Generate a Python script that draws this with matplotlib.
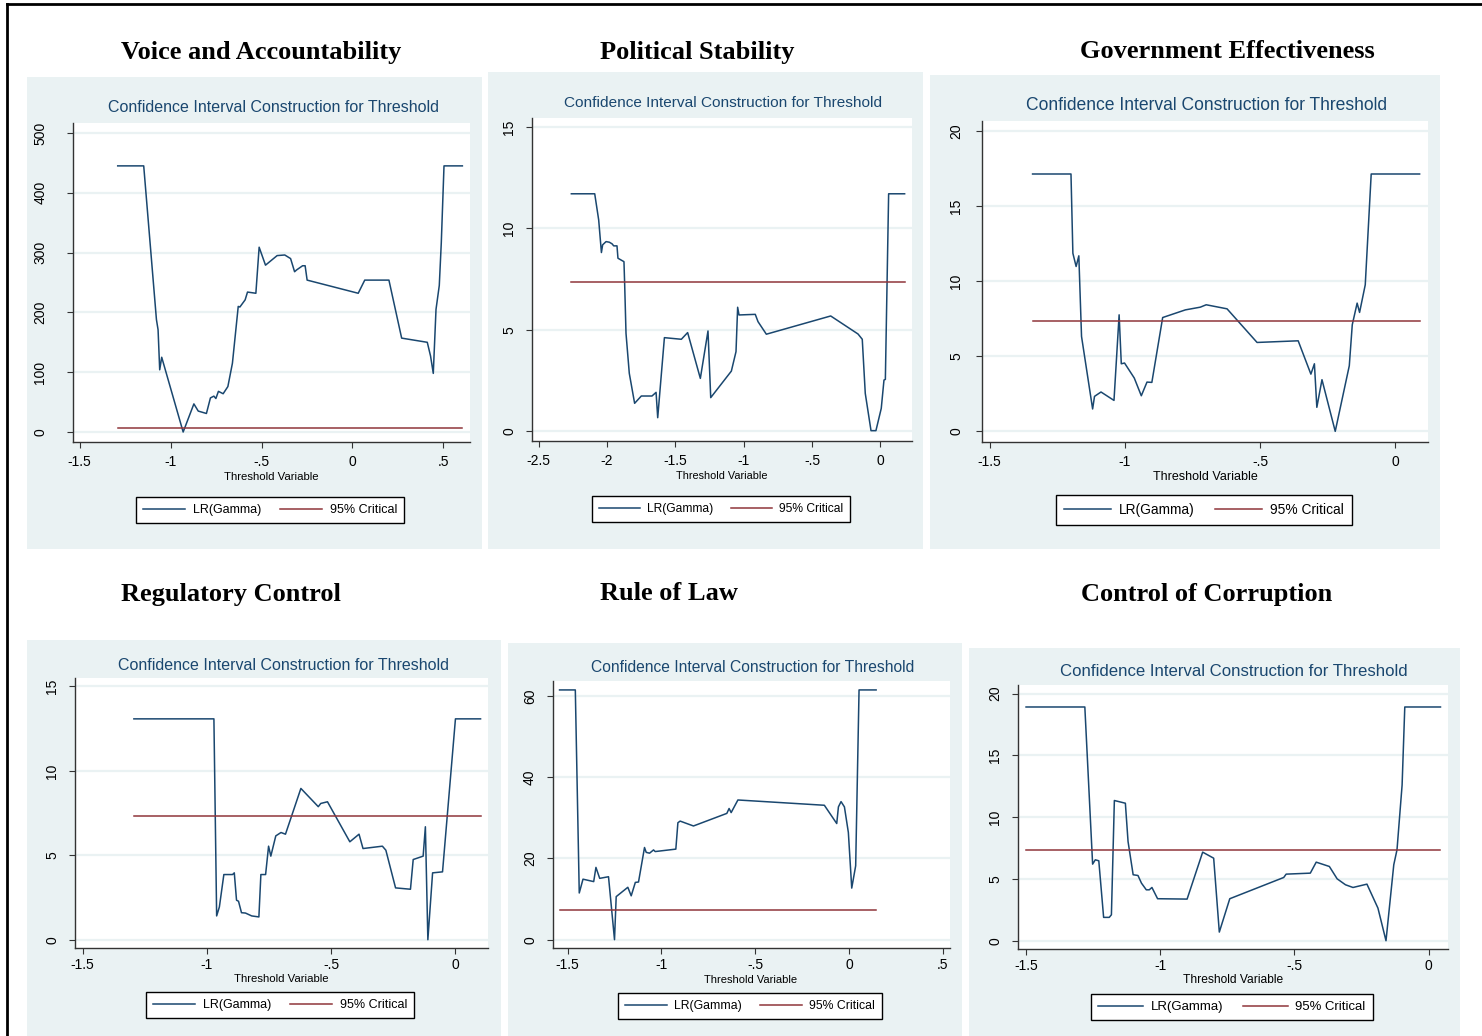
import numpy as np
import matplotlib
matplotlib.use("Agg")
import matplotlib.pyplot as plt
from matplotlib.patches import Rectangle
from matplotlib.lines import Line2D
from matplotlib.ticker import FuncFormatter

# data
# --------------------------------------------------
crit = 7.35

va_x = [-1.291, -1.148, -1.078, -1.069, -1.060, -1.049, -0.931, -0.872, -0.848, -0.803, -0.781, -0.762,
        -0.751, -0.737, -0.711, -0.685, -0.660, -0.628, -0.619, -0.590, -0.577, -0.531, -0.513, -0.478,
        -0.414, -0.372, -0.340, -0.318, -0.307, -0.274, -0.260, -0.249, 0.032, 0.068, 0.201, 0.271,
        0.412, 0.430, 0.445, 0.460, 0.478, 0.489, 0.504, 0.605]
va_y = [445, 445, 188, 171, 104, 125, 0, 47, 35, 31, 57, 60,
        56, 68, 64, 76, 115, 210, 209, 221, 234, 232, 309, 279,
        295, 296, 290, 268, 271, 278, 278, 254, 232, 254, 254, 157,
        150, 127, 98, 205, 245, 316, 445, 445]

ps_x = [-2.261, -2.090, -2.061, -2.041, -2.032, -2.007, -1.983, -1.963, -1.951, -1.927, -1.920, -1.876,
        -1.871, -1.861, -1.837, -1.798, -1.749, -1.671, -1.641, -1.629, -1.580, -1.456, -1.410, -1.317,
        -1.261, -1.241, -1.090, -1.056, -1.044, -1.034, -0.915, -0.895, -0.834, -0.363, -0.163, -0.132,
        -0.110, -0.068, -0.032, 0.007, 0.027, 0.037, 0.061, 0.178]
ps_y = [11.71, 11.71, 10.42, 8.81, 9.19, 9.35, 9.32, 9.24, 9.14, 9.14, 8.53, 8.36,
        7.29, 4.82, 2.85, 1.37, 1.73, 1.73, 1.91, 0.66, 4.61, 4.53, 4.86, 2.60,
        4.94, 1.65, 2.96, 3.92, 6.11, 5.73, 5.76, 5.40, 4.78, 5.68, 4.79, 4.53,
        1.86, 0.02, 0.02, 1.12, 2.52, 2.55, 11.71, 11.71]

ge_x = [-1.341, -1.199, -1.192, -1.180, -1.170, -1.160, -1.119, -1.112, -1.088, -1.040, -1.021, -1.013,
        -1.001, -0.965, -0.939, -0.918, -0.900, -0.860, -0.776, -0.721, -0.699, -0.622, -0.511, -0.359,
        -0.312, -0.299, -0.290, -0.271, -0.222, -0.170, -0.159, -0.141, -0.132, -0.111, -0.089, 0.090]
ge_y = [17.14, 17.14, 11.86, 10.98, 11.69, 6.32, 1.49, 2.33, 2.62, 2.06, 7.76, 4.50,
        4.55, 3.55, 2.37, 3.28, 3.26, 7.58, 8.09, 8.27, 8.43, 8.16, 5.92, 6.03,
        3.81, 4.50, 1.60, 3.44, 0.0, 4.37, 7.10, 8.54, 7.92, 9.76, 17.14, 17.14]

rc_x = [-1.294, -0.972, -0.961, -0.950, -0.932, -0.897, -0.890, -0.881, -0.873, -0.861, -0.845, -0.820,
        -0.791, -0.783, -0.764, -0.752, -0.743, -0.723, -0.702, -0.684, -0.622, -0.552, -0.542, -0.515,
        -0.425, -0.388, -0.372, -0.294, -0.280, -0.241, -0.181, -0.170, -0.130, -0.121, -0.111, -0.092,
        -0.052, 0.0, 0.101]
rc_y = [13.08, 13.08, 1.41, 1.94, 3.86, 3.86, 3.96, 2.34, 2.28, 1.60, 1.58, 1.41,
        1.35, 3.86, 3.86, 5.54, 4.95, 6.15, 6.35, 6.25, 8.96, 7.88, 8.07, 8.17,
        5.80, 6.25, 5.40, 5.54, 5.30, 3.07, 2.99, 4.75, 4.95, 6.69, 0.0, 3.96,
        4.02, 13.08, 13.08]

rl_x = [-1.543, -1.459, -1.438, -1.418, -1.361, -1.349, -1.329, -1.282, -1.250, -1.241, -1.179, -1.161,
        -1.139, -1.122, -1.090, -1.081, -1.063, -1.042, -1.033, -0.923, -0.912, -0.900, -0.829, -0.651,
        -0.639, -0.628, -0.592, -0.131, -0.065, -0.056, -0.042, -0.024, -0.003, 0.015, 0.036, 0.054, 0.145]
rl_y = [61.5, 61.5, 11.5, 14.9, 14.3, 17.8, 15.1, 15.5, 0.0, 10.6, 12.9, 10.8,
        14.1, 14.2, 22.7, 21.5, 21.3, 22.1, 21.7, 22.3, 28.8, 29.2, 28.0, 31.1,
        32.3, 31.3, 34.4, 33.1, 28.6, 32.7, 34.0, 32.7, 26.4, 12.7, 18.2, 61.5, 61.5]

cc_x = [-1.500, -1.281, -1.252, -1.242, -1.229, -1.211, -1.190, -1.182, -1.171, -1.130, -1.120, -1.101,
        -1.083, -1.070, -1.052, -1.041, -1.031, -1.010, -0.900, -0.842, -0.801, -0.780, -0.741, -0.540,
        -0.531, -0.441, -0.419, -0.370, -0.341, -0.310, -0.282, -0.230, -0.189, -0.159, -0.130, -0.118,
        -0.099, -0.089, 0.044]
cc_y = [18.92, 18.92, 6.20, 6.55, 6.47, 1.89, 1.89, 2.10, 11.35, 11.13, 8.03, 5.34,
        5.28, 4.66, 4.12, 4.12, 4.31, 3.40, 3.37, 7.17, 6.68, 0.70, 3.40, 5.12,
        5.39, 5.47, 6.36, 6.01, 5.01, 4.53, 4.31, 4.58, 2.64, 0.0, 6.15, 7.36,
        12.6, 18.92, 18.92]

headings = ["Voice and Accountability", "Political Stability", "Government Effectiveness",
            "Regulatory Control", "Rule of Law", "Control of Corruption"]
series = [(va_x, va_y), (ps_x, ps_y), (ge_x, ge_y), (rc_x, rc_y), (rl_x, rl_y), (cc_x, cc_y)]
yticks = [np.arange(0, 501, 100), np.arange(0, 16, 5), np.arange(0, 21, 5),
          np.arange(0, 16, 5), np.arange(0, 61, 20), np.arange(0, 21, 5)]
xticks = [np.arange(-1.5, 0.51, 0.5), np.arange(-2.5, 0.01, 0.5), np.arange(-1.5, 0.01, 0.5),
          np.arange(-1.5, 0.01, 0.5), np.arange(-1.5, 0.51, 0.5), np.arange(-1.5, 0.01, 0.5)]

# layout in pixels (of a 1482 x 1036 canvas); each stata graph was rescaled a bit
# differently, so text size gets a per panel factor (sc)
layout = [
    dict(bg=(27, 77, 482, 549), ax=(73, 123, 470, 442), xl=(-1.537, 0.647), yl=(-16.7, 516.7),
         head=(121, 52), title=(273, 108), xlab=(271, 477), leg=(270, 510), ypad=14, xpad=5, sc=1.0),
    dict(bg=(488, 72, 923, 549), ax=(532, 118, 912, 441), xl=(-2.549, 0.232), yl=(-0.49, 15.45),
         head=(600, 52), title=(723, 103), xlab=(722, 476), leg=(721, 509), ypad=7, xpad=5, sc=0.96),
    dict(bg=(930, 75, 1440, 549), ax=(982, 121, 1428, 442), xl=(-1.528, 0.121), yl=(-0.71, 20.67),
         head=(1080, 52), title=(1206, 105), xlab=(1205, 477), leg=(1204, 510), ypad=9, xpad=5, sc=1.1),
    dict(bg=(27, 640, 501, 1040), ax=(75, 678, 488, 948), xl=(-1.531, 0.131), yl=(-0.49, 15.5),
         head=(121, 594), title=(283, 665), xlab=(281, 979), leg=(280, 1005), ypad=7, xpad=2.5, sc=1.0),
    dict(bg=(508, 643, 962, 1040), ax=(553, 681, 950, 948), xl=(-1.578, 0.539), yl=(-2.05, 63.7),
         head=(600, 594), title=(753, 667), xlab=(751, 980), leg=(750, 1006), ypad=7, xpad=2.5, sc=0.98),
    dict(bg=(969, 648, 1460, 1040), ax=(1018, 685, 1448, 949), xl=(-1.530, 0.072), yl=(-0.67, 20.7),
         head=(1081, 594), title=(1234, 672), xlab=(1233, 980), leg=(1232, 1007), ypad=7, xpad=2.5, sc=1.05),
]

W, H = 1482, 1036
BG = "#EAF2F3"
BLUE = "#1A476F"
RED = "#90353B"
SANS = ["Liberation Sans", "DejaVu Sans"]
SERIF = ["Liberation Serif", "DejaVu Serif"]


def fx(x):
    return x / W


def fy(y):
    return 1 - y / H


def stata_fmt(v, pos):
    s = "%g" % round(v, 4)
    if s.startswith("0."):
        s = s[1:]
    elif s.startswith("-0."):
        s = "-" + s[2:]
    if s == "-0":
        s = "0"
    return s


fig = plt.figure(figsize=(W / 100, H / 100), dpi=100)

# outer frame (top and left only visible)
fig.add_artist(Line2D([fx(7), fx(1482)], [fy(4), fy(4)], color="black", lw=2))
fig.add_artist(Line2D([fx(7), fx(7)], [fy(4), fy(1036)], color="black", lw=2))

for i in range(6):
    L = layout[i]
    sc = L["sc"]
    x0, y0, x1, y1 = L["bg"]
    fig.add_artist(Rectangle((fx(x0), fy(y1)), fx(x1 - x0), (y1 - y0) / H,
                             facecolor=BG, edgecolor="none", zorder=0))
    fig.text(fx(L["head"][0]), fy(L["head"][1]), headings[i], family=SERIF, weight="bold",
             fontsize=19, ha="left", va="center")
    fig.text(fx(L["title"][0]), fy(L["title"][1]), "Confidence Interval Construction for Threshold",
             family=SANS, fontsize=11.5 * sc, color=BLUE, ha="center", va="center")
    fig.text(fx(L["xlab"][0]), fy(L["xlab"][1]), "Threshold Variable",
             family=SANS, fontsize=8.2 * sc, color="black", ha="center", va="center")

    a0, b0, a1, b1 = L["ax"]
    ax = fig.add_axes([fx(a0), fy(b1), fx(a1 - a0), (b1 - b0) / H])
    ax.set_facecolor("white")
    xs, ys = series[i]
    ax.plot(xs, ys, color=BLUE, lw=1.1, label="LR(Gamma)", zorder=3)
    ax.plot([xs[0], xs[-1]], [crit, crit], color=RED, lw=1.1, label="95% Critical", zorder=3)
    ax.set_xlim(*L["xl"])
    ax.set_ylim(*L["yl"])
    ax.set_xticks(xticks[i])
    ax.set_yticks(yticks[i])
    ax.xaxis.set_major_formatter(FuncFormatter(stata_fmt))
    ax.yaxis.set_major_formatter(FuncFormatter(stata_fmt))
    for t in yticks[i]:
        ax.axhline(t, color=BG, lw=1.6, zorder=1)
    for s in ["top", "right"]:
        ax.spines[s].set_visible(False)
    for s in ["left", "bottom"]:
        ax.spines[s].set_color("#333333")
        ax.spines[s].set_linewidth(1.0)
    ax.tick_params(axis="both", direction="out", length=4.5, width=0.8, color="#333333",
                   labelsize=10)
    ax.tick_params(axis="x", pad=L["xpad"])
    ax.tick_params(axis="y", pad=L["ypad"])
    for lab in ax.get_yticklabels():
        lab.set_rotation(90)
        lab.set_va("center")
        lab.set_family(SANS)
    for lab in ax.get_xticklabels():
        lab.set_family(SANS)

    leg = ax.legend(loc="center", bbox_to_anchor=(fx(L["leg"][0]), fy(L["leg"][1])),
                    bbox_transform=fig.transFigure, ncol=2, frameon=True, fancybox=False,
                    edgecolor="black", framealpha=1, handlelength=3.4, columnspacing=1.5,
                    handletextpad=0.6, borderpad=0.55, prop=dict(family=SANS, size=9 * sc))
    leg.get_frame().set_linewidth(1.0)

fig.savefig("out.png", dpi=100)
